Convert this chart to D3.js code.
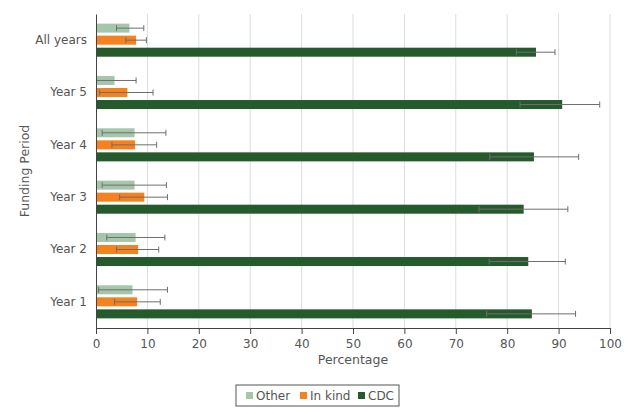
<!DOCTYPE html>
<html>
<head>
<meta charset="utf-8">
<script src="https://cdn.jsdelivr.net/npm/d3@7"></script>
<style>
  body { margin: 0; background: #fff; }
  svg text { font-family: "DejaVu Sans", Verdana, sans-serif; fill: #555; }
</style>
</head>
<body>
<div id="chart"></div>
<script>
/*
Data
*/
const periods = ["All years", "Year 5", "Year 4", "Year 3", "Year 2", "Year 1"];
const sources = ["Other", "In kind", "CDC"];
const colors = ["#a6c6aa", "#f5821f", "#255b2c"];

// values by period, same order as periods
const otherMean = [6.5, 3.6, 7.5, 7.5, 7.7, 7.1];
const otherLow = [4.0, 0.0, 1.2, 1.2, 2.1, 0.5];
const otherHigh = [9.3, 7.8, 13.6, 13.7, 13.4, 13.9];

const inkindMean = [7.8, 6.1, 7.6, 9.4, 8.2, 8.0];
const inkindLow = [5.8, 0.7, 3.1, 4.6, 4.0, 3.6];
const inkindHigh = [9.8, 11.1, 11.8, 13.9, 12.2, 12.5];

const cdcMean = [85.6, 90.7, 85.2, 83.2, 84.1, 84.8];
const cdcLow = [81.8, 82.5, 76.6, 74.5, 76.5, 76.0];
const cdcHigh = [89.3, 98.0, 93.9, 91.8, 91.3, 93.3];

const xTicks = [0, 10, 20, 30, 40, 50, 60, 70, 80, 90, 100];

const rows = [];
periods.forEach((p, i) => {
    rows.push({ period: p, source: "Other", v: otherMean[i], lo: otherLow[i], hi: otherHigh[i] });
    rows.push({ period: p, source: "In kind", v: inkindMean[i], lo: inkindLow[i], hi: inkindHigh[i] });
    rows.push({ period: p, source: "CDC", v: cdcMean[i], lo: cdcLow[i], hi: cdcHigh[i] });
});

/*
Layout
*/
const width = 635, height = 414;
const margin = { top: 14, right: 25, bottom: 86, left: 96 };
const plot_w = width - margin.left - margin.right;
const plot_h = height - margin.top - margin.bottom;

const svg = d3.select("#chart").append("svg")
    .attr("width", width)
    .attr("height", height);

const g = svg.append("g").attr("transform", `translate(${margin.left},${margin.top})`);

const x = d3.scaleLinear().domain([0, 100]).range([0, plot_w]);
const y = d3.scaleBand().domain(periods).range([0, plot_h]);
const ySub = d3.scaleBand().domain(sources).range([0, y.bandwidth()])
    .paddingInner(0.25).paddingOuter(0.8);
const color = d3.scaleOrdinal().domain(sources).range(colors);

// grid
g.append("g")
    .selectAll("line")
    .data(xTicks.filter(t => t > 0))
    .join("line")
    .attr("x1", d => x(d)).attr("x2", d => x(d))
    .attr("y1", 0).attr("y2", plot_h)
    .attr("stroke", "#dcdcdc");

// bars
g.append("g")
    .selectAll("rect")
    .data(rows)
    .join("rect")
    .attr("x", 0)
    .attr("y", d => y(d.period) + ySub(d.source))
    .attr("width", d => x(d.v))
    .attr("height", ySub.bandwidth())
    .attr("fill", d => color(d.source));

// error bars
const err = g.append("g").attr("stroke", "#6e6e6e").attr("stroke-width", 1);
const cy = d => y(d.period) + ySub(d.source) + ySub.bandwidth() / 2;
err.selectAll("line.whisker")
    .data(rows)
    .join("line")
    .attr("class", "whisker")
    .attr("x1", d => x(d.lo)).attr("x2", d => x(d.hi))
    .attr("y1", cy).attr("y2", cy);
err.selectAll("line.caplo")
    .data(rows.filter(d => d.lo > 0))
    .join("line")
    .attr("class", "caplo")
    .attr("x1", d => x(d.lo)).attr("x2", d => x(d.lo))
    .attr("y1", d => cy(d) - 3).attr("y2", d => cy(d) + 3);
err.selectAll("line.caphi")
    .data(rows)
    .join("line")
    .attr("class", "caphi")
    .attr("x1", d => x(d.hi)).attr("x2", d => x(d.hi))
    .attr("y1", d => cy(d) - 3).attr("y2", d => cy(d) + 3);

// axes
const xAxis = g.append("g")
    .attr("transform", `translate(0,${plot_h})`)
    .call(d3.axisBottom(x).tickValues(xTicks).tickSize(6).tickPadding(5));
const yAxis = g.append("g")
    .call(d3.axisLeft(y).tickSize(0).tickPadding(9));

[xAxis, yAxis].forEach(a => {
    a.selectAll("path, line").attr("stroke", "#444");
    a.selectAll("text").attr("font-size", 12).attr("fill", "#555")
        .style("font-family", '"DejaVu Sans", Verdana, sans-serif');
});

// axis titles
svg.append("text")
    .attr("x", margin.left + plot_w / 2)
    .attr("y", 364)
    .attr("text-anchor", "middle")
    .attr("font-size", 12.5)
    .text("Percentage");

svg.append("text")
    .attr("transform", `translate(29,${margin.top + plot_h / 2}) rotate(-90)`)
    .attr("text-anchor", "middle")
    .attr("font-size", 12.5)
    .text("Funding Period");

// legend
const legend = svg.append("g").attr("transform", "translate(236,385)");
legend.append("rect")
    .attr("width", 163).attr("height", 21)
    .attr("fill", "#fff").attr("stroke", "#555");
const legendX = [10, 64, 122];
sources.forEach((s, i) => {
    legend.append("rect")
        .attr("x", legendX[i]).attr("y", 7)
        .attr("width", 7).attr("height", 7)
        .attr("fill", colors[i]);
    legend.append("text")
        .attr("x", legendX[i] + 10).attr("y", 15)
        .attr("font-size", 12)
        .text(s);
});
</script>
</body>
</html>
